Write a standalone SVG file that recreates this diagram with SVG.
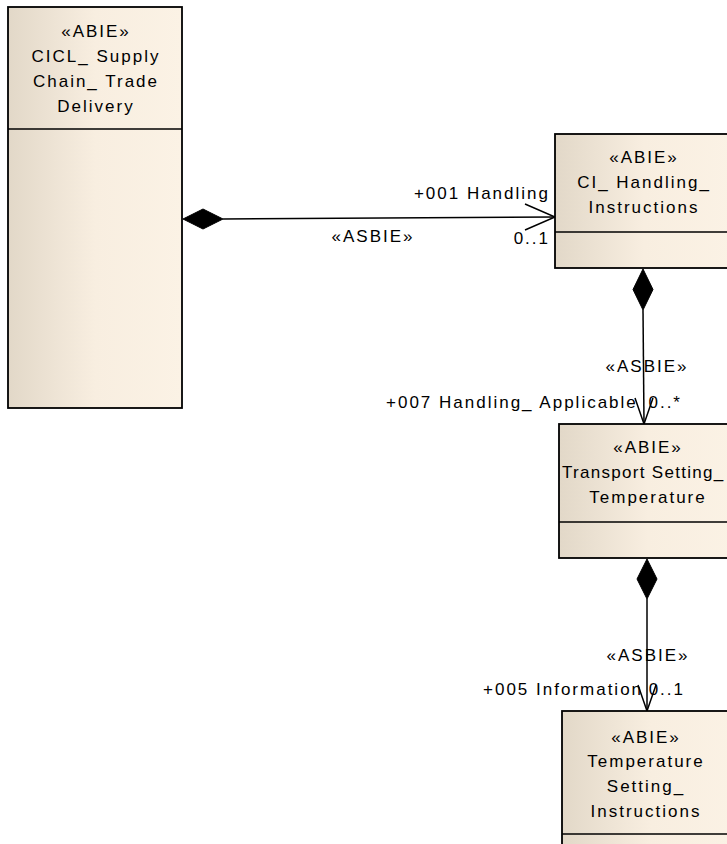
<svg xmlns="http://www.w3.org/2000/svg" width="727" height="844" viewBox="0 0 727 844">
<style>
.box{stroke:#000;stroke-width:1.8;fill:url(#g)}
.div{stroke:#000;stroke-width:1.5}
text{font-family:"Liberation Sans",Arial,sans-serif;font-size:17px;fill:#000;letter-spacing:2px}
.c{text-anchor:middle}
.e{text-anchor:end}
.ln{stroke:#000;stroke-width:1.5;fill:none}
.dm{fill:#000;stroke:#000;stroke-width:1}
</style>
<defs>
<linearGradient id="g" x1="0" y1="0" x2="1" y2="0">
<stop offset="0" stop-color="#e2d8c8"/>
<stop offset="0.5" stop-color="#f8eee0"/>
<stop offset="1" stop-color="#fbf2e5"/>
</linearGradient>
</defs>
<rect width="727" height="844" fill="#fff"/>
<g id="conns">
<g id="c1">
<polygon class="dm" points="183,219 203,209 223,219 203,229"/>
<line class="ln" x1="223" y1="219" x2="555" y2="217"/>
<polyline class="ln" points="525,204 555,217 525,230"/>
<text class="e" x="550" y="199">+001 Handling</text>
<text class="c" x="373" y="242">«ASBIE»</text>
<text class="e" x="550" y="244">0..1</text>
</g>
<g id="c2">
<polygon class="dm" points="643,269 653,289.5 643,310 633,289.5"/>
<line class="ln" x1="643" y1="310" x2="644" y2="424"/>
<polyline class="ln" points="635,398 644,424 653,398"/>
<text class="c" x="647" y="372">«ASBIE»</text>
<text x="386" y="408">+007 Handling_ Applicable</text>
<text class="e" x="682" y="408">0..*</text>
</g>
<g id="c3">
<polygon class="dm" points="647,559 657,579 647,599 637,579"/>
<line class="ln" x1="647" y1="599" x2="647" y2="711"/>
<polyline class="ln" points="638,685 647,711 656,685"/>
<text class="c" x="648" y="661">«ASBIE»</text>
<text x="483" y="695">+005 Information</text>
<text class="e" x="685" y="695">0..1</text>
</g>
</g>
<g id="n1">
<rect class="box" x="8" y="7" width="174" height="401"/>
<line class="div" x1="8" y1="129" x2="182" y2="129"/>
<text class="c" x="96" y="37">«ABIE»</text>
<text class="c" x="96" y="62">CICL_ Supply</text>
<text class="c" x="96" y="87">Chain_ Trade</text>
<text class="c" x="96" y="112">Delivery</text>
</g>
<g id="n2">
<rect class="box" x="555" y="134" width="178" height="134"/>
<line class="div" x1="555" y1="232" x2="733" y2="232"/>
<text class="c" x="644" y="163">«ABIE»</text>
<text class="c" x="644" y="188">CI_ Handling_</text>
<text class="c" x="644" y="213">Instructions</text>
</g>
<g id="n3">
<rect class="box" x="559" y="424" width="178" height="134"/>
<line class="div" x1="559" y1="522" x2="737" y2="522"/>
<text class="c" x="648" y="453">«ABIE»</text>
<text x="562" y="478" style="letter-spacing:1.3px">Transport Setting_</text>
<text class="c" x="648" y="503">Temperature</text>
</g>
<g id="n4">
<rect class="box" x="562" y="711" width="178" height="140"/>
<line class="div" x1="562" y1="834" x2="740" y2="834"/>
<text class="c" x="646" y="743">«ABIE»</text>
<text class="c" x="646" y="767">Temperature</text>
<text class="c" x="646" y="792">Setting_</text>
<text class="c" x="646" y="817">Instructions</text>
</g>
</svg>
